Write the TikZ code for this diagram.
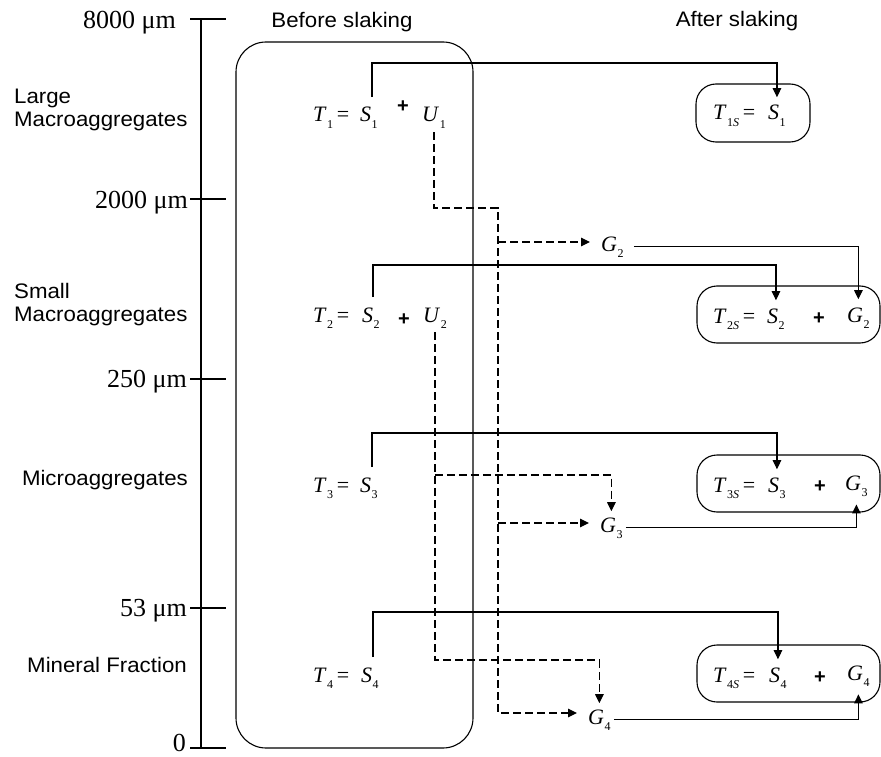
\documentclass[tikz,border=0pt]{standalone}
\usepackage{fontspec}
\setmainfont{Liberation Serif}
\setsansfont{Liberation Sans}
\usetikzlibrary{arrows.meta,calc}

\newcommand\vv[2]{\textit{#1}\kern0.5pt\raisebox{-0.28em}{\fontsize{12}{12}\selectfont #2}}
\newcommand\eqf{\fontsize{22}{25}\selectfont}
\newcommand\labf{\sffamily\fontsize{21}{23}\selectfont}
\newcommand\sclf{\fontsize{26}{28}\selectfont}
\newcommand\plusf{\sffamily\bfseries\fontsize{20}{20}\selectfont}
\newcommand\wide[1]{\scalebox{1.06}[1]{#1}}

\begin{document}
\begin{tikzpicture}[x=1pt,y=-1pt,
  ln/.style={line width=1.1pt},
  arr/.style={ln,-{Triangle[length=9pt,width=8.5pt]}},
  dsh/.style={ln,dash pattern=on 8pt off 4pt},
  darr/.style={dsh,-{Triangle[length=9pt,width=8.5pt]}},
  eqn/.style={inner sep=0pt,font=\eqf},
  src/.style={eqn,inner ysep=10pt},
  usrc/.style={eqn,inner ysep=4pt},
  tgt/.style={eqn,inner ysep=8pt},
  gnode/.style={eqn,inner xsep=3pt,inner ysep=6pt},
  plus/.style={inner sep=0pt,font=\plusf},
  lab/.style={inner sep=0pt,font=\labf},
  scl/.style={inner sep=0pt,font=\sclf},
  bigbox/.style={draw,line width=1.1pt,rounded corners=30pt},
  sbox/.style={draw,line width=1.1pt,rounded corners=20pt}]
\useasboundingbox (0,0) rectangle (881,757);

% size scale
\draw[ln] (201,19) -- (201,748);
\foreach \yy in {19,199,379,608,748} \draw[ln] (190,\yy) -- (226,\yy);
\node[scl,anchor=base east] (l8000) at (176,29) {8000 μm};
\node[scl,anchor=base east] (l2000) at (188,208) {2000 μm};
\node[scl,anchor=base east] (l250) at (187,387) {250 μm};
\node[scl,anchor=base east] (l53) at (187,616) {53 μm};
\node[scl,anchor=base east] (l0) at (186,751) {0};

% class labels
\node[lab,anchor=west] (large) at (14,110) {\wide{\begin{tabular}{@{}l@{}}Large\\Macroaggregates\end{tabular}}};
\node[lab,anchor=west] (small) at (14,305) {\wide{\begin{tabular}{@{}l@{}}Small\\Macroaggregates\end{tabular}}};
\node[lab,anchor=base east] (micro) at (188,485) {\wide{Microaggregates}};
\node[lab,anchor=base east] (mineral) at (187,672) {\wide{Mineral Fraction}};

% headings
\node[lab,anchor=base] (hbefore) at (342,28) {\wide{Before slaking}};
\node[lab,anchor=base] (hafter) at (737,27) {\wide{After slaking}};

% before box
\node[bigbox,minimum width=237pt,minimum height=706pt] (before) at (354.5,395) {};

% before equations
\node[eqn,anchor=base west] (t1) at (313,122) {\vv{T}{1}\,=};
\node[src,anchor=base west] (s1) at (360,122) {\vv{S}{1}};
\node[plus] (p1) at (403,107) {+};
\node[usrc,anchor=base west] (u1) at (422,122) {\vv{U}{1}};

\node[eqn,anchor=base west] (t2) at (313,322) {\vv{T}{2}\,=};
\node[src,anchor=base west] (s2) at (362,322) {\vv{S}{2}};
\node[plus] (p2) at (404,320) {+};
\node[usrc,anchor=base west] (u2) at (423,322) {\vv{U}{2}};

\node[eqn,anchor=base west] (t3) at (313,492) {\vv{T}{3}\,=};
\node[src,anchor=base west] (s3) at (360,492) {\vv{S}{3}};

\node[eqn,anchor=base west] (t4) at (313,682) {\vv{T}{4}\,=};
\node[src,anchor=base west] (s4) at (361,682) {\vv{S}{4}};

% intermediate G nodes
\node[gnode,anchor=base west] (g2) at (598,251) {\vv{G}{2}};
\node[gnode,anchor=base west] (g3) at (597,532) {\vv{G}{3}};
\node[gnode,anchor=base west] (g4) at (585,724) {\vv{G}{4}};

% after boxes
\node[sbox,minimum width=114pt,minimum height=58pt] (b1) at (753,113) {};
\node[sbox,minimum width=183pt,minimum height=57pt] (b2) at (788.5,314.5) {};
\node[sbox,minimum width=183pt,minimum height=57pt] (b3) at (788.5,483.5) {};
\node[sbox,minimum width=183pt,minimum height=57pt] (b4) at (788.5,673.5) {};

\node[eqn,anchor=base west] (ts1) at (713,120) {\vv{T}{1\textit{S}}\,=};
\node[tgt,anchor=base west] (ss1) at (768,120) {\vv{S}{1}};

\node[eqn,anchor=base west] (ts2) at (713,323) {\vv{T}{2\textit{S}}\,=};
\node[tgt,anchor=base west] (ss2) at (767,323) {\vv{S}{2}};
\node[plus] (pp2) at (819,319) {+};
\node[tgt,anchor=base west] (gg2) at (847,322) {\vv{G}{2}};

\node[eqn,anchor=base west] (ts3) at (713,492) {\vv{T}{3\textit{S}}\,=};
\node[tgt,anchor=base west] (ss3) at (768,492) {\vv{S}{3}};
\node[plus] (pp3) at (820,487) {+};
\node[tgt,anchor=base west] (gg3) at (845,490) {\vv{G}{3}};

\node[eqn,anchor=base west] (ts4) at (713,682) {\vv{T}{4\textit{S}}\,=};
\node[tgt,anchor=base west] (ss4) at (769,682) {\vv{S}{4}};
\node[plus] (pp4) at (820,678) {+};
\node[tgt,anchor=base west] (gg4) at (847,680) {\vv{G}{4}};

% routing levels
\coordinate (h1) at (0,63);
\coordinate (h2) at (0,265);
\coordinate (h3) at (0,433);
\coordinate (h4) at (0,612);
\coordinate (ka) at (498,208);
\coordinate (kb) at (498,242);
\coordinate (kc) at (498,523);
\coordinate (kd) at (498,713);
\coordinate (m3) at (0,475);
\coordinate (m4) at (0,660);

% stable parts S -> after
\draw[arr] ([xshift=3pt]s1.north) |- (h1 -| ss1.north) -- (ss1.north);
\draw[arr] ([xshift=2pt]s2.north) |- (h2 -| ss2.north) -- (ss2.north);
\draw[arr] ([xshift=3pt]s3.north) |- (h3 -| ss3.north) -- (ss3.north);
\draw[arr] ([xshift=3pt]s4.north) |- (h4 -| ss4.north) -- (ss4.north);

% unstable U1
\draw[darr,shorten >=8pt] (u1.south) |- (ka) -- (kd) -- (kd -| g4.west);
\draw[darr,shorten >=8pt] (kb) -- (kb -| g2.west);
\draw[darr,shorten >=8pt] (kc) -- (kc -| g3.west);

% unstable U2
\draw[darr] (u2.south) |- (m4 -| g4.north) -- (g4.north);
\draw[darr] (u2.south |- m3) -| (g3.north);

% G -> after
\draw[arr,shorten <=7pt] (g2.east) -| (gg2.north);
\draw[arr] (g3.east) -| (gg3.south);
\draw[arr] (g4.east) -| (gg4.south);
\end{tikzpicture}
\end{document}
